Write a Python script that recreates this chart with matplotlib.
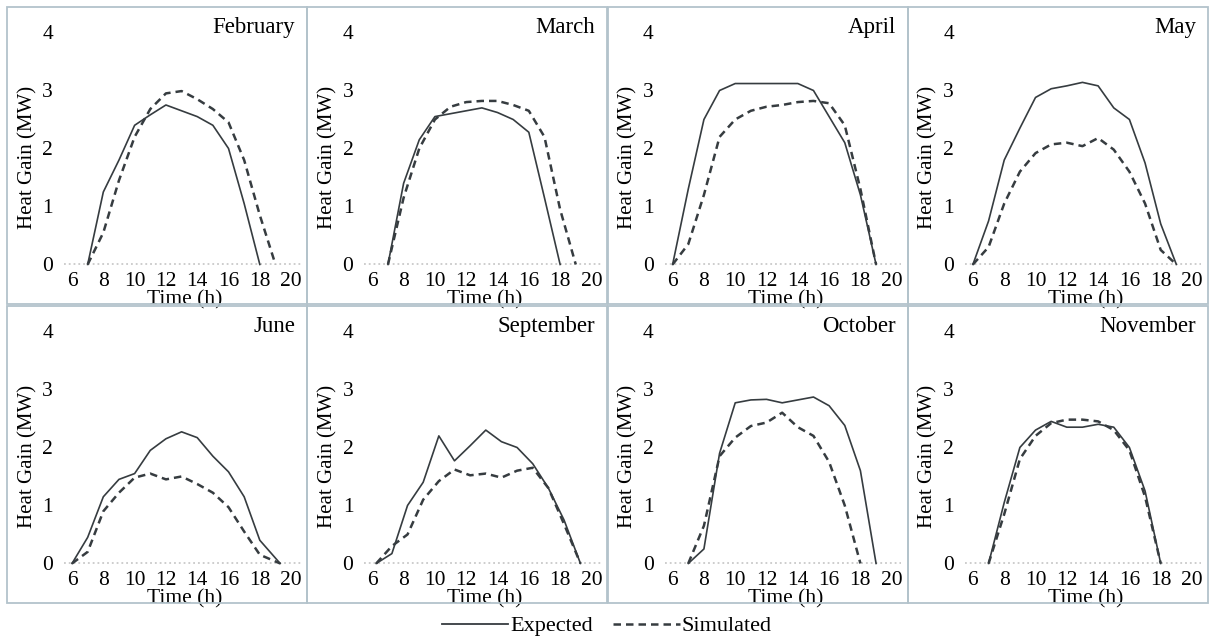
import matplotlib

# 画面表示なしで画像保存
matplotlib.use("Agg")

import matplotlib.pyplot as plt
from matplotlib.patches import Rectangle
from matplotlib.lines import Line2D

plt.rcParams["font.family"] = ["Liberation Serif", "DejaVu Serif"]

# =========================
# データ (MW)
# =========================
feb_hours = [7, 8, 9, 10, 11, 12, 13, 14, 15, 16, 17, 18, 19]
feb_expected = [0, 1.25, 1.8, 2.4, 2.58, 2.75, 2.65, 2.55, 2.4, 2.0, 1.05, 0, None]
feb_simulated = [0, 0.55, 1.45, 2.2, 2.68, 2.95, 2.99, 2.85, 2.68, 2.45, 1.8, 0.85, 0]

mar_hours = [7, 8, 9, 10, 11, 12, 13, 14, 15, 16, 17, 18, 19]
mar_expected = [0, 1.4, 2.15, 2.55, 2.6, 2.65, 2.7, 2.62, 2.5, 2.28, 1.15, 0, None]
mar_simulated = [0, 1.15, 2.0, 2.5, 2.72, 2.8, 2.82, 2.82, 2.75, 2.65, 2.2, 0.95, 0]

apr_hours = [6, 7, 8, 9, 10, 11, 12, 13, 14, 15, 16, 17, 18, 19]
apr_expected = [0, 1.3, 2.5, 3.0, 3.12, 3.12, 3.12, 3.12, 3.12, 3.0, 2.55, 2.1, 1.2, 0]
apr_simulated = [0, 0.35, 1.2, 2.2, 2.5, 2.65, 2.72, 2.75, 2.8, 2.82, 2.78, 2.4, 1.3, 0]

may_hours = [6, 7, 8, 9, 10, 11, 12, 13, 14, 15, 16, 17, 18, 19]
may_expected = [0, 0.75, 1.8, 2.35, 2.88, 3.03, 3.08, 3.14, 3.08, 2.7, 2.5, 1.75, 0.7, 0]
may_simulated = [0, 0.3, 1.05, 1.6, 1.92, 2.07, 2.1, 2.04, 2.18, 1.98, 1.6, 1.05, 0.25, 0]

jun_hours = [6, 7, 8, 9, 10, 11, 12, 13, 14, 15, 16, 17, 18, 19.3]
jun_expected = [0, 0.45, 1.15, 1.45, 1.55, 1.95, 2.15, 2.27, 2.17, 1.85, 1.58, 1.15, 0.4, 0]
jun_simulated = [0, 0.2, 0.9, 1.22, 1.48, 1.55, 1.45, 1.5, 1.37, 1.22, 0.97, 0.55, 0.15, 0]

sep_hours = [6.25, 7.25, 8.25, 9.25, 10.25, 11.25, 12.25, 13.25, 14.25, 15.25, 16.25, 17.25, 18.25, 19.3]
sep_expected = [0, 0.17, 1.0, 1.4, 2.2, 1.77, 2.03, 2.3, 2.1, 2.0, 1.72, 1.3, 0.75, 0]
sep_simulated = [0, 0.3, 0.5, 1.1, 1.42, 1.62, 1.52, 1.55, 1.48, 1.6, 1.65, 1.3, 0.68, 0]

oct_hours = [7, 8, 9, 10, 11, 12, 13, 14, 15, 16, 17, 18, 19]
oct_expected = [0, 0.25, 1.9, 2.77, 2.82, 2.83, 2.77, 2.82, 2.87, 2.72, 2.38, 1.6, 0]
oct_simulated = [0, 0.65, 1.85, 2.17, 2.37, 2.43, 2.6, 2.35, 2.2, 1.75, 1.0, 0, None]

nov_hours = [7, 8, 9, 10, 11, 12, 13, 14, 15, 16, 17, 18]
nov_expected = [0, 1.05, 2.0, 2.3, 2.45, 2.35, 2.35, 2.4, 2.35, 2.0, 1.25, 0]
nov_simulated = [0, 0.85, 1.8, 2.2, 2.42, 2.48, 2.48, 2.45, 2.3, 1.95, 1.15, 0]

months = ["February", "March", "April", "May", "June", "September", "October", "November"]
x_ticks = [6, 8, 10, 12, 14, 16, 18, 20]
y_ticks = [0, 1, 2, 3, 4]

panels = [
    (feb_hours, feb_expected, feb_simulated),
    (mar_hours, mar_expected, mar_simulated),
    (apr_hours, apr_expected, apr_simulated),
    (may_hours, may_expected, may_simulated),
    (jun_hours, jun_expected, jun_simulated),
    (sep_hours, sep_expected, sep_simulated),
    (oct_hours, oct_expected, oct_simulated),
    (nov_hours, nov_expected, nov_simulated),
]

# =========================
# スタイル
# =========================
W, H = 1211, 639
LINE_COLOR = "#363c40"
FRAME_COLOR = "#b3c3cb"
FS = 15.5


def clean(hours, values):
    pairs = [(h, v) for h, v in zip(hours, values) if v is not None]
    return [p[0] for p in pairs], [p[1] for p in pairs]


fig = plt.figure(figsize=(W / 100, H / 100), dpi=100)

for i, (hours, expected, simulated) in enumerate(panels):
    row, col = divmod(i, 4)
    pl = 7 + 300.3 * col
    pt = 7 + 299 * row

    # パネル枠
    fig.patches.append(Rectangle(
        (pl / W, 1 - (pt + 297) / H), 300 / W, 297 / H,
        transform=fig.transFigure, fill=False, ec=FRAME_COLOR, lw=1.3,
    ))

    ax = fig.add_axes([(pl + 57.2) / W, 1 - (pt + 259.2) / H, 236.3 / W, 236.6 / H])

    ax.axhline(0, color="#c9c9c9", ls=":", lw=1.3, zorder=0)

    hx, hy = clean(hours, expected)
    ax.plot(hx, hy, color=LINE_COLOR, lw=1.2, clip_on=False)
    hx, hy = clean(hours, simulated)
    ax.plot(hx, hy, color=LINE_COLOR, lw=1.8, dashes=(3, 2), clip_on=False)

    ax.set_xlim(5.5, 20.6)
    ax.set_ylim(-0.03, 4.05)
    ax.set_xticks(x_ticks)
    ax.set_yticks(y_ticks)
    ax.tick_params(length=0, labelsize=FS)
    ax.tick_params(axis="x", pad=4)
    ax.tick_params(axis="y", pad=8)
    for s in ax.spines.values():
        s.set_visible(False)

    ax.set_ylabel("Heat Gain (MW)", fontsize=15)
    ax.yaxis.set_label_coords(-0.115, 0.46)
    ax.set_xlabel("Time (h)", fontsize=FS)
    ax.xaxis.set_label_coords(0.51, -0.1)

    ax.text(0.977, 0.986, months[i], transform=ax.transAxes,
            ha="right", va="baseline", fontsize=16.5, clip_on=False)

handles = [
    Line2D([], [], color=LINE_COLOR, lw=1.3),
    Line2D([], [], color=LINE_COLOR, lw=1.8, dashes=(3, 2)),
]
fig.legend(handles, ["Expected", "Simulated"], loc="center",
           bbox_to_anchor=(0.501, 13 / H), ncol=2, frameon=False,
           fontsize=16, handlelength=3.0, handletextpad=0.1,
           columnspacing=0.9)

fig.savefig("out.png", dpi=100)
